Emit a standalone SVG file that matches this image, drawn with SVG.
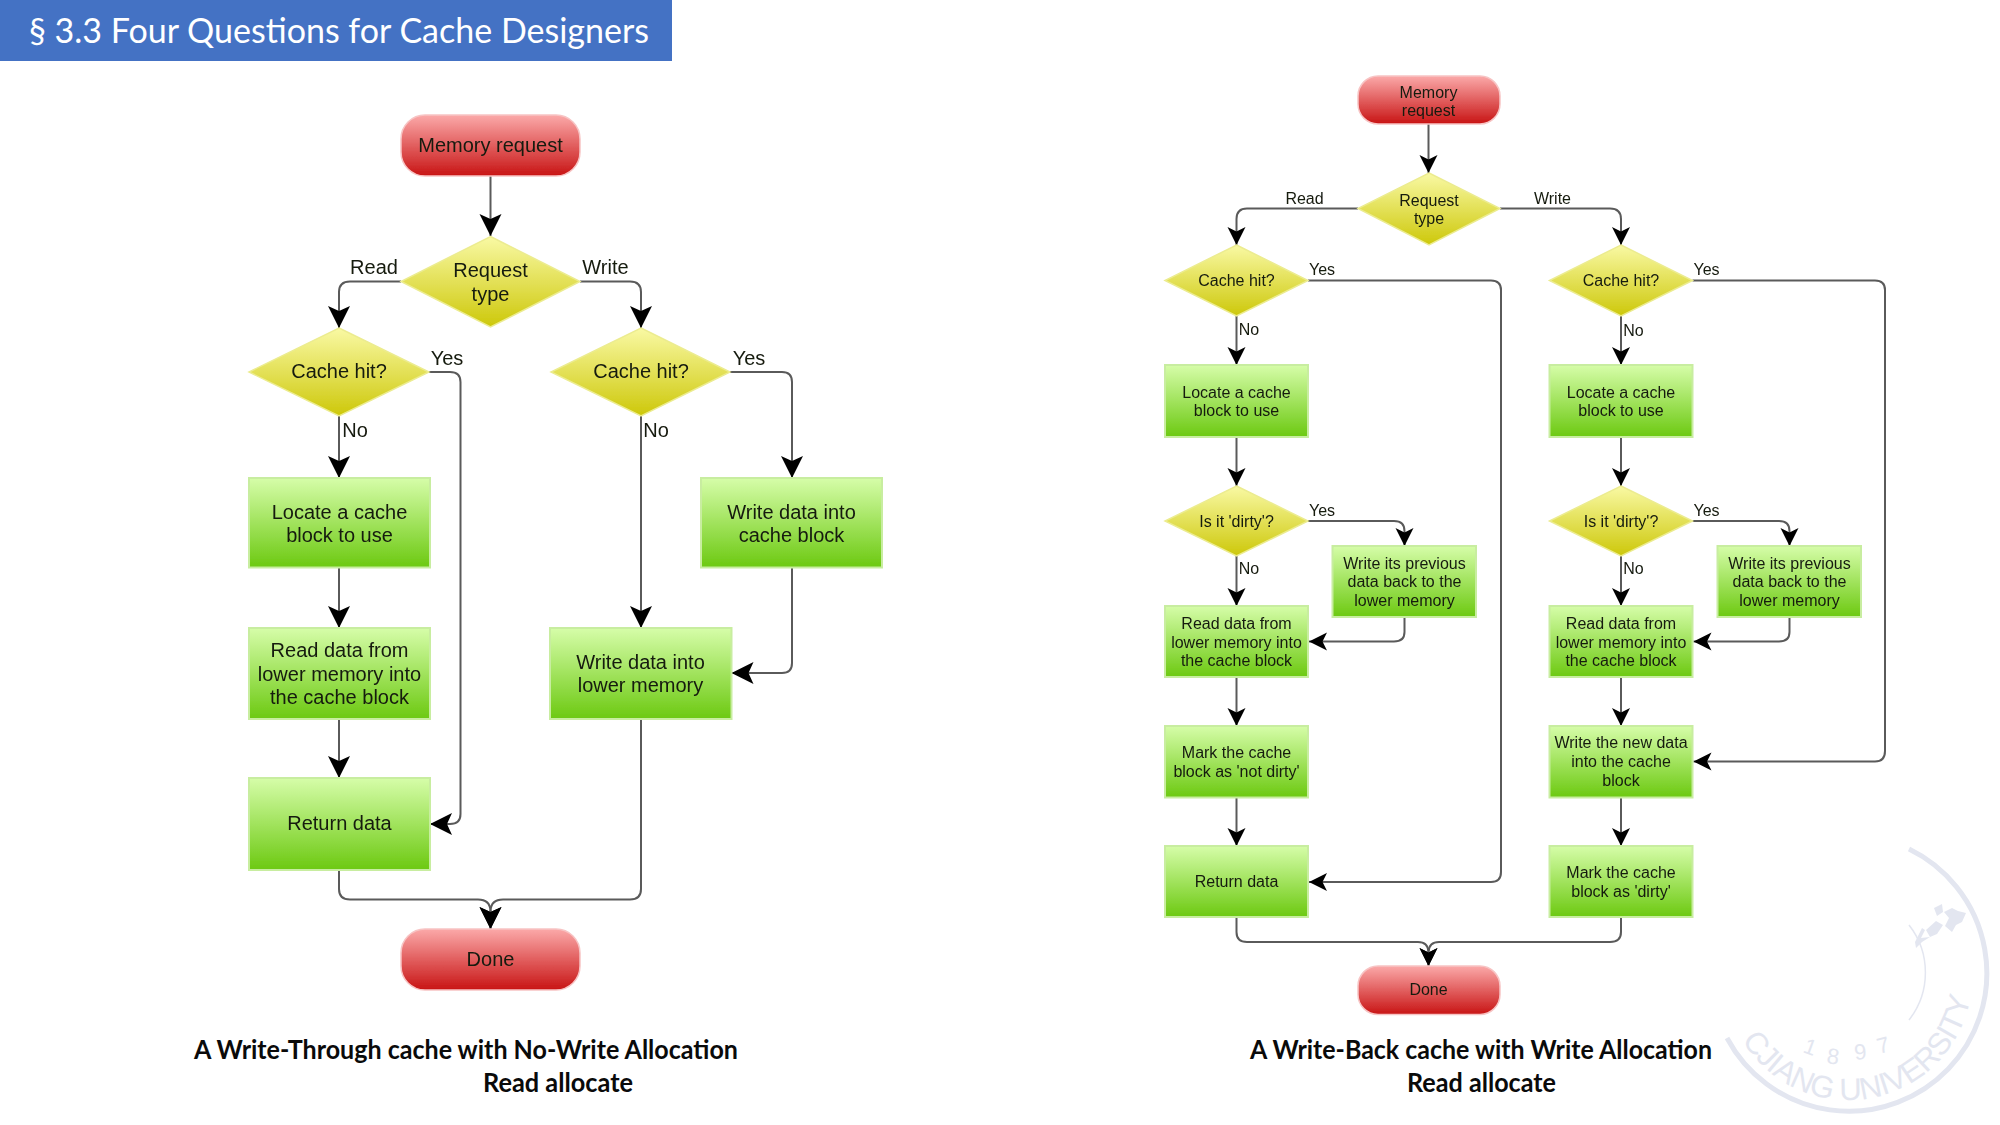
<svg xmlns="http://www.w3.org/2000/svg" width="2000" height="1125" viewBox="0 0 2000 1125">
<style>
text{font-family:"Liberation Sans",Arial,sans-serif;fill:#151a10;text-anchor:middle}
.a text,.a .t{font-size:20px}
.b text,.b .t{font-size:16px}
.a,.b{filter:url(#soft)}
.red{fill:url(#gr);stroke:#f7c4c4;stroke-width:1.5}
.yel{fill:url(#gy);stroke:#ecec90;stroke-width:1.5}
.grn{fill:url(#gg);stroke:#c8eda0;stroke-width:2}
.c{fill:none;stroke:#5a5a5a;stroke-width:2}
.a .c{marker-end:url(#ma)}
.b .c{marker-end:url(#mb)}
.cap{font-family:Lato,"Liberation Sans",sans-serif;font-weight:700;font-size:26px;fill:#0a0a0a}
.wm{fill:none;stroke:#e3e6f0;stroke-width:5}
.wt{font-family:"Liberation Sans",sans-serif;fill:#e3e6f0;text-anchor:start}
.em{fill:#e3e6f0}
</style>
<defs>
<filter id="soft" x="-2%" y="-2%" width="104%" height="104%"><feGaussianBlur stdDeviation="0.45"/></filter>
<linearGradient id="gr" x1="0" y1="0" x2="0" y2="1"><stop offset="0" stop-color="#fba9a9"/><stop offset="1" stop-color="#c81414"/></linearGradient>
<linearGradient id="gy" x1="0" y1="0" x2="0" y2="1"><stop offset="0" stop-color="#f9f9a4"/><stop offset="1" stop-color="#cdc80a"/></linearGradient>
<linearGradient id="gg" x1="0" y1="0" x2="0" y2="1"><stop offset="0" stop-color="#d6fda9"/><stop offset="1" stop-color="#6cc911"/></linearGradient>
<marker id="ma" markerUnits="userSpaceOnUse" markerWidth="24" markerHeight="24" refX="22" refY="12" orient="auto"><path d="M22,12 L0,1 L5,12 L0,23Z" fill="#000"/></marker>
<marker id="mb" markerUnits="userSpaceOnUse" markerWidth="20" markerHeight="20" refX="18" refY="10" orient="auto"><path d="M18,10 L0,1 L4.500,10 L0,19Z" fill="#000"/></marker>
<path id="wmp" d="M1742,1040 A124,124 0 0 0 1970,1000"/>
</defs>
<rect width="2000" height="1125" fill="#fff"/>
<g id="watermark">
<path class="wm" d="M1909,849 A138,138 0 1 1 1727,1038"/>
<path class="wm" style="stroke-width:1.5" d="M1909,925 A77,77 0 0 1 1909,1020"/>
<text class="wt" font-size="31" letter-spacing="-0.5"><textPath href="#wmp">CJIANG UNIVERSITY</textPath></text>
<text class="wt" font-size="22" x="1802" y="1052" transform="rotate(20 1802 1052)">1</text>
<text class="wt" font-size="22" x="1826" y="1063" transform="rotate(8 1826 1063)">8</text>
<text class="wt" font-size="22" x="1855" y="1060" transform="rotate(-6 1855 1060)">9</text>
<text class="wt" font-size="22" x="1879" y="1054" transform="rotate(-14 1879 1054)">7</text>
<path class="em" d="M1944,912 L1952,908 L1958,911 L1966,913 L1962,922 L1956,925 L1952,932 L1945,926 L1949,918Z"/>
<path class="em" d="M1934,908 L1942,904 L1943,912 L1937,916Z"/>
<path class="em" d="M1926,930 L1936,921 L1943,925 L1937,934 L1930,937Z"/>
<path class="em" d="M1915,942 L1922,928 L1925,930 L1921,938 L1930,937 L1922,942 L1916,948Z"/>
</g>
<g id="title">
<rect x="0" y="0" width="672" height="61" fill="#4472c4"/>
<text x="29" y="43" style="font-family:Lato,'Liberation Sans',sans-serif;font-size:35px;fill:#fff;text-anchor:start" textLength="620" lengthAdjust="spacingAndGlyphs">§ 3.3 Four Questions for Cache Designers</text>
</g>
<g class="a" id="write-through">
<g id="connectors-left">
<path class="c" d="M490.500,176V236"/>
<path class="c" d="M401,281.500H350Q339,281.500 339,292V328"/>
<path class="c" d="M580,281.500H630Q641,281.500 641,292V328"/>
<path class="c" d="M339,416V478"/>
<path class="c" d="M429,372H450Q460.500,372 460.500,382V814Q460.500,824 450,824H430"/>
<path class="c" d="M339,567.500V628"/>
<path class="c" d="M339,719V778"/>
<path class="c" d="M641,416V628"/>
<path class="c" d="M730,372H782Q792,372 792,382V478"/>
<path class="c" d="M792,567.500V663Q792,673 782,673H731.500"/>
<path class="c" d="M339,870V889Q339,899.500 350,899.500H478Q490,899.500 490.500,911V929"/>
<path class="c" d="M641,719V889Q641,899.500 630,899.500H503Q491,899.500 490.500,911V929"/>
<text x="374" y="274">Read</text>
<text x="605.500" y="274">Write</text>
<text x="447" y="365">Yes</text>
<text x="749" y="365">Yes</text>
<text x="355" y="437">No</text>
<text x="656" y="437">No</text>
</g>
<g id="l-memory-request"><rect class="red" x="401" y="115" width="179" height="61" rx="24"/><text x="490.500" y="152">Memory request</text></g>
<g id="l-request-type"><path class="yel" d="M490.500,236.500L580,281.500L490.500,327L401,281.500Z"/><text x="490.500" y="277">Request</text><text x="490.500" y="301">type</text></g>
<g id="l-cache-hit-read"><path class="yel" d="M339,328L429,372L339,416L249,372Z"/><text x="339" y="378">Cache hit?</text></g>
<g id="l-cache-hit-write"><path class="yel" d="M641,328L730,372L641,416L551,372Z"/><text x="641" y="378">Cache hit?</text></g>
<g id="l-locate"><rect class="grn" x="249" y="478" width="181" height="89.500"/><text x="339.500" y="518.500">Locate a cache</text><text x="339.500" y="541.500">block to use</text></g>
<g id="l-write-cache"><rect class="grn" x="701" y="478" width="181" height="89.500"/><text x="791.500" y="518.500">Write data into</text><text x="791.500" y="541.500">cache block</text></g>
<g id="l-read-data"><rect class="grn" x="249" y="628" width="181" height="91"/><text x="339.500" y="657">Read data from</text><text x="339.500" y="681">lower memory into</text><text x="339.500" y="704">the cache block</text></g>
<g id="l-write-lower"><rect class="grn" x="550" y="628" width="181.500" height="91"/><text x="640.500" y="669">Write data into</text><text x="640.500" y="692">lower memory</text></g>
<g id="l-return"><rect class="grn" x="249" y="778" width="181" height="92"/><text x="339.500" y="830">Return data</text></g>
<g id="l-done"><rect class="red" x="401" y="929" width="179" height="61" rx="24"/><text x="490.500" y="966">Done</text></g>
</g>
<g class="b" id="write-back">
<g id="connectors-right">
<path class="c" d="M1428.500,124V173"/>
<path class="c" d="M1358,208.500H1247Q1236.500,208.500 1236.500,219V245"/>
<path class="c" d="M1500,208.500H1610Q1621,208.500 1621,219V245"/>
<path class="c" d="M1236.500,316V365"/>
<path class="c" d="M1621,316V365"/>
<path class="c" d="M1236.500,437V486"/>
<path class="c" d="M1621,437V486"/>
<path class="c" d="M1236.500,556V606"/>
<path class="c" d="M1621,556V606"/>
<path class="c" d="M1236.500,677V726"/>
<path class="c" d="M1621,677V726"/>
<path class="c" d="M1236.500,797.500V846"/>
<path class="c" d="M1621,797.500V846"/>
<path class="c" d="M1308,280.500H1491Q1501,280.500 1501,290V872Q1501,882 1491,882H1309"/>
<path class="c" d="M1692.500,280.500H1875Q1885,280.500 1885,290V751Q1885,761.500 1875,761.500H1693.500"/>
<path class="c" d="M1308,521H1394Q1404.500,521 1404.500,531V546"/>
<path class="c" d="M1692.500,521H1779Q1789.500,521 1789.500,531V546"/>
<path class="c" d="M1404.500,617V632Q1404.500,641.500 1394,641.500H1309"/>
<path class="c" d="M1789.500,617V632Q1789.500,641.500 1779,641.500H1693.500"/>
<path class="c" d="M1236.500,917V932Q1236.500,942 1247,942H1418Q1428,942 1428.500,952V966"/>
<path class="c" d="M1621,917V932Q1621,942 1610,942H1439Q1429,942 1428.500,952V966"/>
<text x="1304.500" y="203.500">Read</text>
<text x="1552.500" y="203.500">Write</text>
<text x="1322" y="275">Yes</text>
<text x="1706.500" y="275">Yes</text>
<text x="1249" y="335">No</text>
<text x="1633.500" y="335.500">No</text>
<text x="1322" y="516">Yes</text>
<text x="1706.500" y="516">Yes</text>
<text x="1249" y="573.500">No</text>
<text x="1633.500" y="573.500">No</text>
</g>
<g id="r-memory-request"><rect class="red" x="1358" y="76" width="142" height="48" rx="20"/><text x="1428.500" y="98">Memory</text><text x="1428.500" y="116">request</text></g>
<g id="r-request-type"><path class="yel" d="M1429,173L1500,208.500L1429,245L1358,208.500Z"/><text x="1429" y="205.500">Request</text><text x="1429" y="224">type</text></g>
<g id="r-cache-hit-read"><path class="yel" d="M1236.500,245L1308,280.500L1236.500,316L1165,280.500Z"/><text x="1236.500" y="286">Cache hit?</text></g>
<g id="r-cache-hit-write"><path class="yel" d="M1621,245L1692.500,280.500L1621,316L1549.500,280.500Z"/><text x="1621" y="286">Cache hit?</text></g>
<g id="r-locate-read"><rect class="grn" x="1165" y="365" width="143" height="72"/><text x="1236.500" y="398">Locate a cache</text><text x="1236.500" y="416">block to use</text></g>
<g id="r-locate-write"><rect class="grn" x="1549.500" y="365" width="143" height="72"/><text x="1621" y="398">Locate a cache</text><text x="1621" y="416">block to use</text></g>
<g id="r-dirty-read"><path class="yel" d="M1236.500,486L1308,521L1236.500,556L1165,521Z"/><text x="1236.500" y="527">Is it 'dirty'?</text></g>
<g id="r-dirty-write"><path class="yel" d="M1621,486L1692.500,521L1621,556L1549.500,521Z"/><text x="1621" y="527">Is it 'dirty'?</text></g>
<g id="r-prev-read"><rect class="grn" x="1332.500" y="546" width="143.500" height="71"/><text x="1404.500" y="569">Write its previous</text><text x="1404.500" y="587">data back to the</text><text x="1404.500" y="605.500">lower memory</text></g>
<g id="r-prev-write"><rect class="grn" x="1717.500" y="546" width="143.500" height="71"/><text x="1789.500" y="569">Write its previous</text><text x="1789.500" y="587">data back to the</text><text x="1789.500" y="605.500">lower memory</text></g>
<g id="r-read-data-read"><rect class="grn" x="1165" y="606" width="143" height="71"/><text x="1236.500" y="629">Read data from</text><text x="1236.500" y="647.500">lower memory into</text><text x="1236.500" y="666">the cache block</text></g>
<g id="r-read-data-write"><rect class="grn" x="1549.500" y="606" width="143" height="71"/><text x="1621" y="629">Read data from</text><text x="1621" y="647.500">lower memory into</text><text x="1621" y="666">the cache block</text></g>
<g id="r-mark-not-dirty"><rect class="grn" x="1165" y="726" width="143" height="71.500"/><text x="1236.500" y="758">Mark the cache</text><text x="1236.500" y="777">block as 'not dirty'</text></g>
<g id="r-write-new"><rect class="grn" x="1549.500" y="726" width="143" height="71.500"/><text x="1621" y="748">Write the new data</text><text x="1621" y="767">into the cache</text><text x="1621" y="786">block</text></g>
<g id="r-return"><rect class="grn" x="1165" y="846" width="143" height="71"/><text x="1236.500" y="887">Return data</text></g>
<g id="r-mark-dirty"><rect class="grn" x="1549.500" y="846" width="143" height="71"/><text x="1621" y="878">Mark the cache</text><text x="1621" y="897">block as 'dirty'</text></g>
<g id="r-done"><rect class="red" x="1358" y="966" width="142" height="48.500" rx="20"/><text x="1428.500" y="995">Done</text></g>
</g>
<g id="captions">
<text class="cap" x="466" y="1058.500" textLength="544" lengthAdjust="spacingAndGlyphs">A Write-Through cache with No-Write Allocation</text>
<text class="cap" x="558" y="1091.500" textLength="150" lengthAdjust="spacingAndGlyphs">Read allocate</text>
<text class="cap" x="1481" y="1059" textLength="462" lengthAdjust="spacingAndGlyphs">A Write-Back cache with Write Allocation</text>
<text class="cap" x="1481.500" y="1092" textLength="149" lengthAdjust="spacingAndGlyphs">Read allocate</text>
</g>
</svg>
